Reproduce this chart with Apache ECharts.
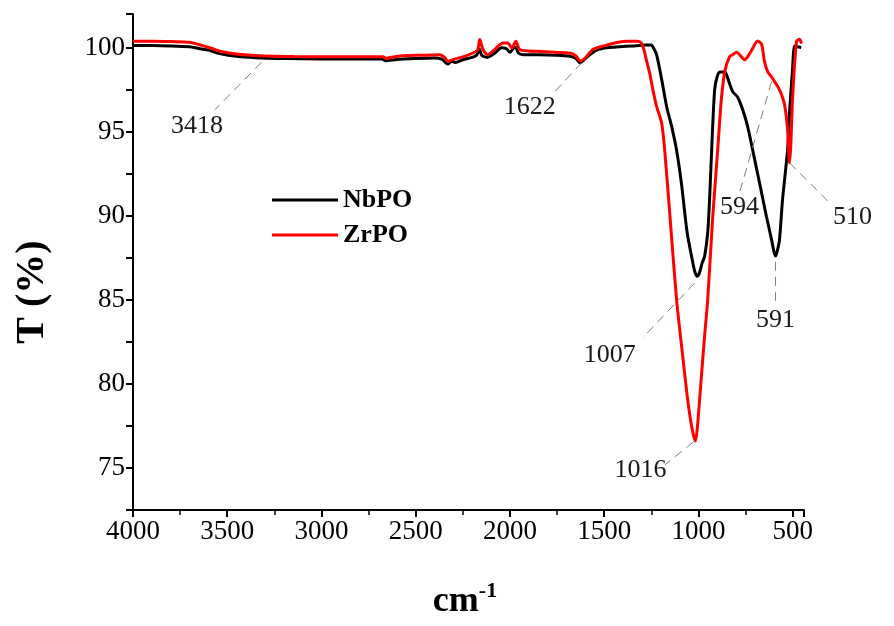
<!DOCTYPE html>
<html><head><meta charset="utf-8">
<script src="https://cdn.jsdelivr.net/npm/echarts@6/dist/echarts.min.js"></script>
<style>html,body{margin:0;padding:0;background:#fff}#c{width:894px;height:626px}</style>
</head><body><div id="c"></div>
<script>
const nbWave = [4000,3900,3800,3700,3650,3600,3540,3450,3350,3200,3000,2800,2680,2660,2600,2500,2400,2360,2330,2310,2290,2250,2200,2175,2162,2150,2120,2080,2045,2020,2000,1985,1970,1955,1930,1850,1750,1680,1650,1628,1610,1580,1540,1480,1420,1350,1280,1250,1235,1222,1195,1169,1142,1116,1090,1060,1035,1020,1007,995,980,967,951,941,930,914,900,885,860,845,833,818,792,765,739,713,676,639,612,600,591,582,570,554,527,517,501,490,475,455];
const nbT = [100.12,100.12,100.10,100.05,99.95,99.85,99.65,99.48,99.40,99.35,99.33,99.33,99.33,99.22,99.30,99.35,99.38,99.30,99.02,99.18,99.12,99.28,99.42,99.58,99.90,99.55,99.42,99.68,100.00,99.95,99.72,99.92,100.02,99.68,99.58,99.58,99.55,99.48,99.35,99.10,99.25,99.55,99.85,100.00,100.05,100.10,100.15,100.15,99.90,99.58,98.10,96.50,95.30,93.90,91.90,89.00,87.50,86.70,86.40,86.60,87.20,87.60,89.00,90.95,93.90,97.50,98.30,98.55,98.55,98.20,97.80,97.38,97.05,96.30,95.30,93.95,91.96,89.94,88.57,87.90,87.60,87.90,88.57,90.95,93.93,96.10,98.70,100.10,100.05,100.00];
const zrWave = [4000,3900,3800,3700,3640,3580,3539,3450,3327,3150,3008,2800,2674,2655,2620,2568,2450,2372,2345,2330,2303,2250,2197,2172,2160,2144,2118,2080,2038,2012,1990,1969,1948,1900,1858,1760,1683,1650,1625,1600,1561,1520,1487,1434,1380,1330,1305,1290,1275,1259,1240,1222,1195,1179,1150,1116,1085,1057,1035,1016,1005,994,970,951,925,898,885,877,860,835,819,798,775,755,720,686,665,650,633,615,596,575,559,543,527,517,510,501,480,464,453];
const zrT = [100.38,100.38,100.36,100.32,100.15,99.95,99.78,99.62,99.52,99.47,99.45,99.45,99.45,99.36,99.45,99.52,99.55,99.58,99.40,99.18,99.29,99.45,99.68,99.85,100.48,99.90,99.58,99.90,100.28,100.28,99.98,100.38,99.88,99.80,99.78,99.72,99.68,99.50,99.20,99.40,99.88,100.05,100.15,100.30,100.38,100.38,100.30,99.90,99.20,98.50,97.40,96.50,95.50,93.90,89.80,85.00,81.80,79.05,77.40,76.60,77.50,79.05,82.50,85.00,89.80,93.90,96.00,97.10,98.60,99.46,99.58,99.72,99.50,99.28,99.80,100.40,100.20,99.20,98.57,98.30,97.98,97.60,97.20,96.60,95.10,93.15,94.20,96.90,100.36,100.50,100.25];

const seriesNames = ['NbPO', 'ZrPO'];
const seriesColors = ['#000000', '#ff0000'];

const annotLabels = ['3418', '1622', '1007', '1016', '591', '594', '510'];
const annotFrom = [[3318, 99.13], [1619, 99.10], [1020, 86.0], [1026, 76.55], [591, 87.26], [612, 97.98], [517, 93.15]];
const annotTo = [[3565, 96.31], [1778, 97.2], [1296, 82.74], [1179, 75.18], [591, 84.88], [782, 91.37], [294, 90.65]];
const annotText = [[3661, 95.3], [1895, 96.43], [1471, 81.7], [1307, 74.88], [591, 83.81], [782, 90.54], [183, 89.94]];

const FONT = '"Liberation Serif", "Times New Roman", serif';
const chart = echarts.init(document.getElementById('c'), null, {renderer: 'canvas'});
const zip = (a, b) => a.map((v, i) => [v, b[i]]);

chart.setOption({
  animation: false,
  backgroundColor: '#ffffff',
  grid: {left: 133, right: 90, top: 14, bottom: 116, containLabel: false, outerBoundsMode: 'none'},
  legend: {
    orient: 'vertical', left: 267, top: 182, icon: 'rect',
    itemWidth: 66, itemHeight: 3, itemGap: 9,
    textStyle: {fontFamily: FONT, fontSize: 26, fontWeight: 'bold', color: '#000', lineHeight: 26},
    data: seriesNames
  },
  xAxis: {
    type: 'value', inverse: true, min: 440, max: 4000, splitNumber: 7,
    axisLine: {lineStyle: {color: '#000', width: 2}},
    axisTick: {length: 7, lineStyle: {color: '#000', width: 2}},
    minorTick: {show: true, splitNumber: 2, length: 5, lineStyle: {color: '#000', width: 1.5}},
    splitLine: {show: false},
    axisLabel: {formatter: v => (v % 500 === 0 ? String(v) : ''), fontFamily: FONT, fontSize: 27, color: '#000', margin: 8}
  },
  yAxis: {
    type: 'value', min: 72.5, max: 102, interval: 2.5,
    axisLine: {show: true, lineStyle: {color: '#000', width: 2}},
    axisTick: {show: true, length: 7, lineStyle: {color: '#000', width: 2}},
    splitLine: {show: false},
    axisLabel: {formatter: v => (Math.abs(v % 5) < 1e-6 ? String(v) : ''), fontFamily: FONT, fontSize: 27, color: '#000', margin: 8}
  },
  series: seriesNames.map((name, i) => ({
    name, type: 'line', showSymbol: false, symbol: 'none', smooth: 0.25,
    data: i === 0 ? zip(nbWave, nbT) : zip(zrWave, zrT),
    lineStyle: {color: seriesColors[i], width: 3},
    itemStyle: {color: seriesColors[i]},
    z: 2 + i
  }))
});

function drawAnnotations() {
  const els = [];
  annotLabels.forEach((lab, i) => {
    const p1 = chart.convertToPixel({gridIndex: 0}, annotFrom[i]);
    const p2 = chart.convertToPixel({gridIndex: 0}, annotTo[i]);
    const pt = chart.convertToPixel({gridIndex: 0}, annotText[i]);
    els.push({type: 'line', shape: {x1: p1[0], y1: p1[1], x2: p2[0], y2: p2[1]},
      style: {stroke: '#7f7f7f', lineWidth: 1, lineDash: [9, 6]}, z: 10});
    els.push({type: 'text', x: pt[0], y: pt[1],
      style: {text: lab, font: '26px ' + FONT, fill: '#1a1a1a', align: 'center', verticalAlign: 'middle'}, z: 10});
  });
  els.push({type: 'text', x: 33, y: 292, rotation: Math.PI / 2,
    style: {text: 'T (%)', font: 'bold 40px ' + FONT, fill: '#000', align: 'center', verticalAlign: 'middle'}});
  els.push({type: 'text', x: 465, y: 600,
    style: {text: '{a|cm}{b|-1}', align: 'center', verticalAlign: 'middle', fill: '#000',
      rich: {a: {font: 'bold 36px ' + FONT, fill: '#000', lineHeight: 40, verticalAlign: 'bottom'},
             b: {font: 'bold 22px ' + FONT, fill: '#000', lineHeight: 40, verticalAlign: 'top'}}}});
  chart.setOption({graphic: els});
}
drawAnnotations();
</script></body></html>
